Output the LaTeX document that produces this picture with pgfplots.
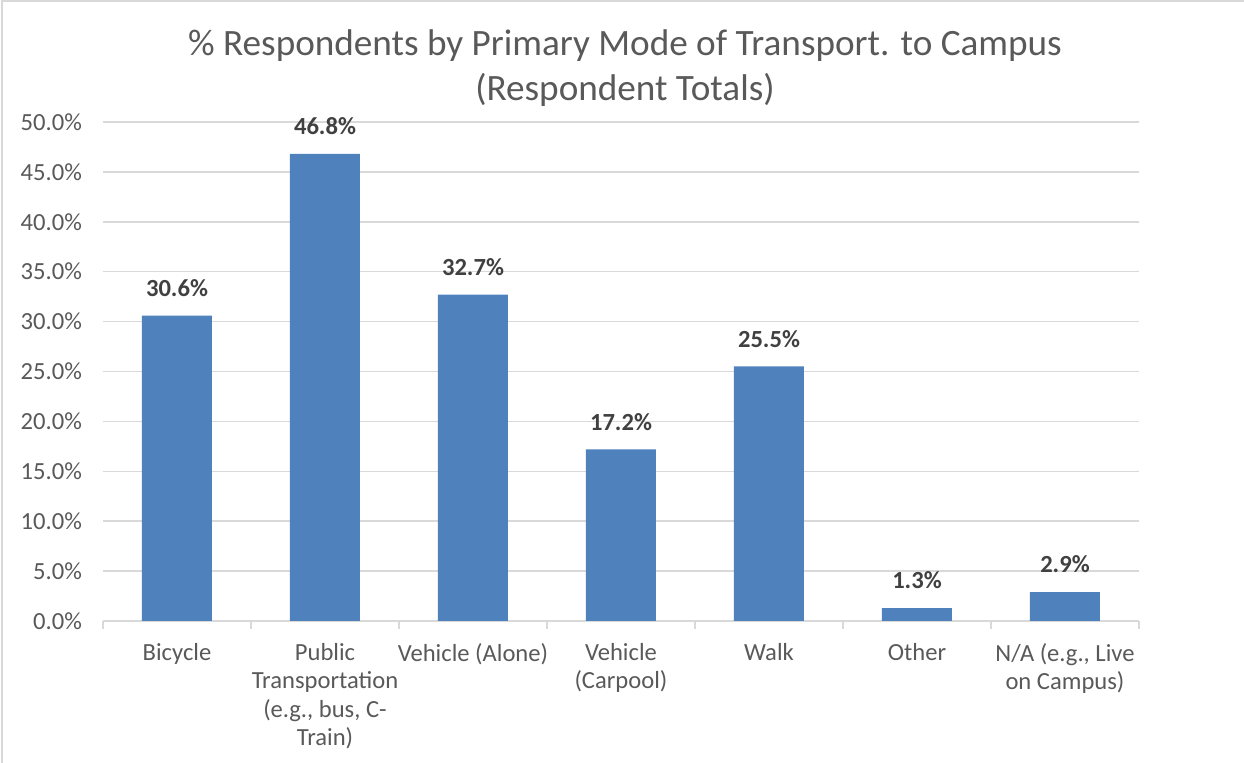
\documentclass[border=0pt]{standalone}
\usepackage{fontspec}
\setmainfont{Carlito}
\usepackage{pgfplots}
\pgfplotsset{compat=1.18}
\definecolor{barblue}{HTML}{4F81BD}
\definecolor{gridgray}{HTML}{D9D9D9}
\definecolor{txtgray}{HTML}{595959}
\definecolor{lblgray}{HTML}{404040}
\begin{document}
\begin{tikzpicture}
\path[use as bounding box] (0,0) rectangle (622pt,381.5pt);
\draw[gridgray, line width=1pt] (0.8pt,0) -- (0.8pt,381pt) -- (622pt,381pt);
\begin{axis}[
  at={(51.5pt,71pt)}, anchor=south west,
  scale only axis, width=518pt, height=249.5pt,
  ybar, bar width=35pt,
  xmin=-0.5, xmax=6.5, ymin=0, ymax=50,
  xtick=data,
  xticklabels={Bicycle,{Public\\Transportation\\(e.g., bus, C-\\Train)},{Vehicle (Alone)},{Vehicle\\(Carpool)},Walk,Other,{N/A (e.g., Live\\on Campus)}},
  xticklabel style={align=center, font=\fontsize{12.3}{14.25}\selectfont, text=txtgray, yshift=-7.5pt},
  ytick={0,5,...,50},
  yticklabel={\pgfmathprintnumber[fixed,fixed zerofill,precision=1]{\tick}\%},
  yticklabel style={font=\fontsize{12.3}{14.4}\selectfont, text=txtgray, xshift=-7pt},
  /pgf/number format/assume math mode=true,
  axis x line*=bottom, axis y line*=left,
  x axis line style={-, draw=gridgray, line width=0.75pt},
  y axis line style={draw=none},
  major tick length=0pt,
  ymajorgrids, grid style={gridgray, line width=0.75pt},
  extra x ticks={-0.5,0.5,1.5,2.5,3.5,4.5,5.5,6.5},
  extra x tick labels={},
  extra x tick style={grid=none, major tick length=4pt, tick align=outside, tick style={draw=gridgray, line width=0.75pt}},
  nodes near coords={\pgfmathprintnumber[fixed,fixed zerofill,precision=1]{\pgfplotspointmeta}\%},
  every node near coord/.append style={font=\bfseries\fontsize{12.3}{14.4}\selectfont, text=lblgray, anchor=south, yshift=6pt, /pgf/number format/assume math mode=true},
  clip=false,
]
\addplot[fill=barblue, draw=none] coordinates {(0,30.6) (1,46.8) (2,32.7) (3,17.2) (4,25.5) (5,1.3) (6,2.9)};
\end{axis}
\node[anchor=base, text=txtgray, font=\fontsize{18.6}{22}\selectfont] at (312.5pt,353.5pt) {\% Respondents by Primary Mode of Transport. to Campus};
\node[anchor=base, text=txtgray, font=\fontsize{18.6}{22}\selectfont] at (312.5pt,331pt) {(Respondent Totals)};
\end{tikzpicture}
\end{document}
